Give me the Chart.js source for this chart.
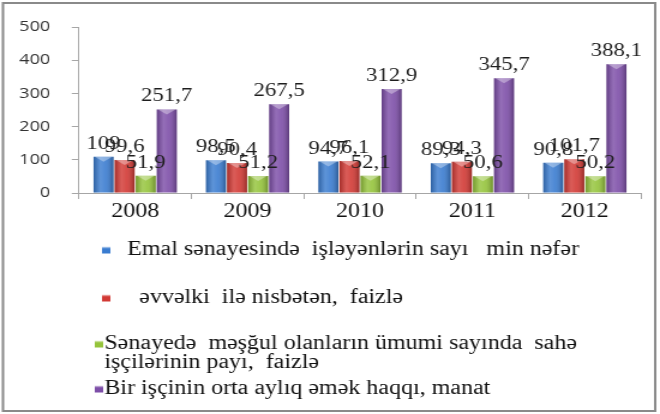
<!DOCTYPE html>
<html>
<head>
<meta charset="utf-8">
<script src="https://cdn.jsdelivr.net/npm/chart.js@4"></script>
<style>
html,body{margin:0;padding:0;background:#fff;overflow:hidden;}
#wrap{width:550px;height:414px;transform:scaleX(1.2);transform-origin:0 0;}
canvas{display:block;}
</style>
</head>
<body>
<div id="wrap"><canvas id="c" width="550" height="414"></canvas></div>
<script>
const years = ['2008', '2009', '2010', '2011', '2012'];
const workers = [109, 98.5, 94.7, 89.3, 90.8];
const prevYearPct = [99.6, 90.4, 96.1, 94.3, 101.7];
const sharePct = [51.9, 51.2, 52.1, 50.6, 50.2];
const avgWage = [251.7, 267.5, 312.9, 345.7, 388.1];
const yTickValues = [0, 100, 200, 300, 400, 500];
const seriesNames = [
  ['Emal sənayesində  işləyənlərin sayı   min nəfər'],
  ['əvvəlki  ilə nisbətən,  faizlə'],
  ['Sənayedə  məşğul olanların ümumi sayında  sahə', 'işçilərinin payı,  faizlə'],
  ['Bir işçinin orta aylıq əmək haqqı, manat']
];
const seriesColors = ['#3a7cd0', '#d23934', '#95c43b', '#7d4ea8'];

const SERIF = "'Liberation Serif', serif";
const fmt = v => String(v).replace('.', ',');

const bevelPlugin = {
  id: 'bevel',
  afterDatasetsDraw(chart) {
    const ctx = chart.ctx;
    chart.data.datasets.forEach((ds, di) => {
      const meta = chart.getDatasetMeta(di);
      meta.data.forEach(el => {
        const p = el.getProps(['x', 'y', 'base', 'width'], true);
        const l = p.x - p.width / 2, r = p.x + p.width / 2;
        const g = ctx.createLinearGradient(l, 0, r, 0);
        g.addColorStop(0, 'rgba(0,0,0,0.22)');
        g.addColorStop(0.35, 'rgba(255,255,255,0.18)');
        g.addColorStop(0.6, 'rgba(255,255,255,0.10)');
        g.addColorStop(1, 'rgba(0,0,0,0.28)');
        ctx.save();
        ctx.fillStyle = g;
        ctx.fillRect(l, p.y, p.width, p.base - p.y);
        ctx.fillStyle = 'rgba(255,255,255,0.35)';
        ctx.beginPath();
        ctx.moveTo(l + 1, p.y);
        ctx.lineTo(r - 1, p.y);
        ctx.lineTo(p.x, p.y + 5);
        ctx.closePath();
        ctx.fill();
        ctx.restore();
      });
    });
  }
};

const labelPlugin = {
  id: 'valueLabels',
  afterDatasetsDraw(chart) {
    const ctx = chart.ctx;
    ctx.save();
    ctx.font = '19px ' + SERIF;
    ctx.fillStyle = '#1e1e1e';
    ctx.textAlign = 'center';
    ctx.textBaseline = 'middle';
    chart.data.datasets.forEach((ds, di) => {
      const meta = chart.getDatasetMeta(di);
      meta.data.forEach((el, i) => {
        ctx.fillText(fmt(ds.data[i]), el.x, el.y - 13);
      });
    });
    ctx.restore();
  }
};

const legendPlugin = {
  id: 'customLegend',
  afterDraw(chart) {
    const ctx = chart.ctx;
    const rows = [
      { bx: 85, tx: 106, y: 250 },
      { bx: 85, tx: 116, y: 298 },
      { bx: 79, tx: 87, y: 344 },
      { bx: 79, tx: 87, y: 389 }
    ];
    ctx.save();
    ctx.font = '20px ' + SERIF;
    ctx.textBaseline = 'middle';
    ctx.textAlign = 'left';
    seriesNames.forEach((lines, i) => {
      const r = rows[i];
      const g = ctx.createLinearGradient(0, r.y - 4, 0, r.y + 4);
      g.addColorStop(0, '#ffffff');
      g.addColorStop(0.35, seriesColors[i]);
      g.addColorStop(1, seriesColors[i]);
      ctx.fillStyle = g;
      ctx.fillRect(r.bx, r.y - 3.5, 7, 7);
      ctx.fillStyle = '#111';
      lines.forEach((t, k) => ctx.fillText(t, r.tx, r.y + k * 19));
    });
    ctx.strokeStyle = '#8a8a8a';
    ctx.lineWidth = 2;
    ctx.strokeRect(2.5, 3, 543.5, 408);
    ctx.restore();
  }
};

new Chart(document.getElementById('c'), {
  type: 'bar',
  data: {
    labels: years,
    datasets: [
      { label: seriesNames[0].join(' '), data: workers, backgroundColor: seriesColors[0] },
      { label: seriesNames[1].join(' '), data: prevYearPct, backgroundColor: seriesColors[1] },
      { label: seriesNames[2].join(' '), data: sharePct, backgroundColor: seriesColors[2] },
      { label: seriesNames[3].join(' '), data: avgWage, backgroundColor: seriesColors[3] }
    ]
  },
  options: {
    responsive: false,
    devicePixelRatio: 1,
    animation: false,
    datasets: { bar: { categoryPercentage: 0.75, barPercentage: 0.95 } },
    layout: { padding: { left: 15.8, right: 15.8, top: 22, bottom: 190 } },
    plugins: { legend: { display: false }, tooltip: { enabled: false } },
    scales: {
      x: {
        grid: { display: true, drawOnChartArea: false, drawTicks: true, tickLength: 6, color: '#a6a6a6', offset: true },
        border: { display: true, color: '#a6a6a6', width: 1 },
        ticks: { color: '#111', padding: 1, font: { family: SERIF, size: 20 } },
        afterFit(s) { s.height = 31; }
      },
      y: {
        min: 0,
        max: 500,
        afterBuildTicks(s) { s.ticks = yTickValues.map(v => ({ value: v })); },
        grid: { display: true, drawOnChartArea: false, drawTicks: true, tickLength: 6, color: '#a6a6a6' },
        border: { display: true, color: '#a6a6a6', width: 1 },
        ticks: { color: '#333', padding: 18, font: { family: "'Open Sans', sans-serif", size: 15 } },
        afterFit(s) { s.width = 50; }
      }
    }
  },
  plugins: [bevelPlugin, labelPlugin, legendPlugin]
});
</script>
</body>
</html>
